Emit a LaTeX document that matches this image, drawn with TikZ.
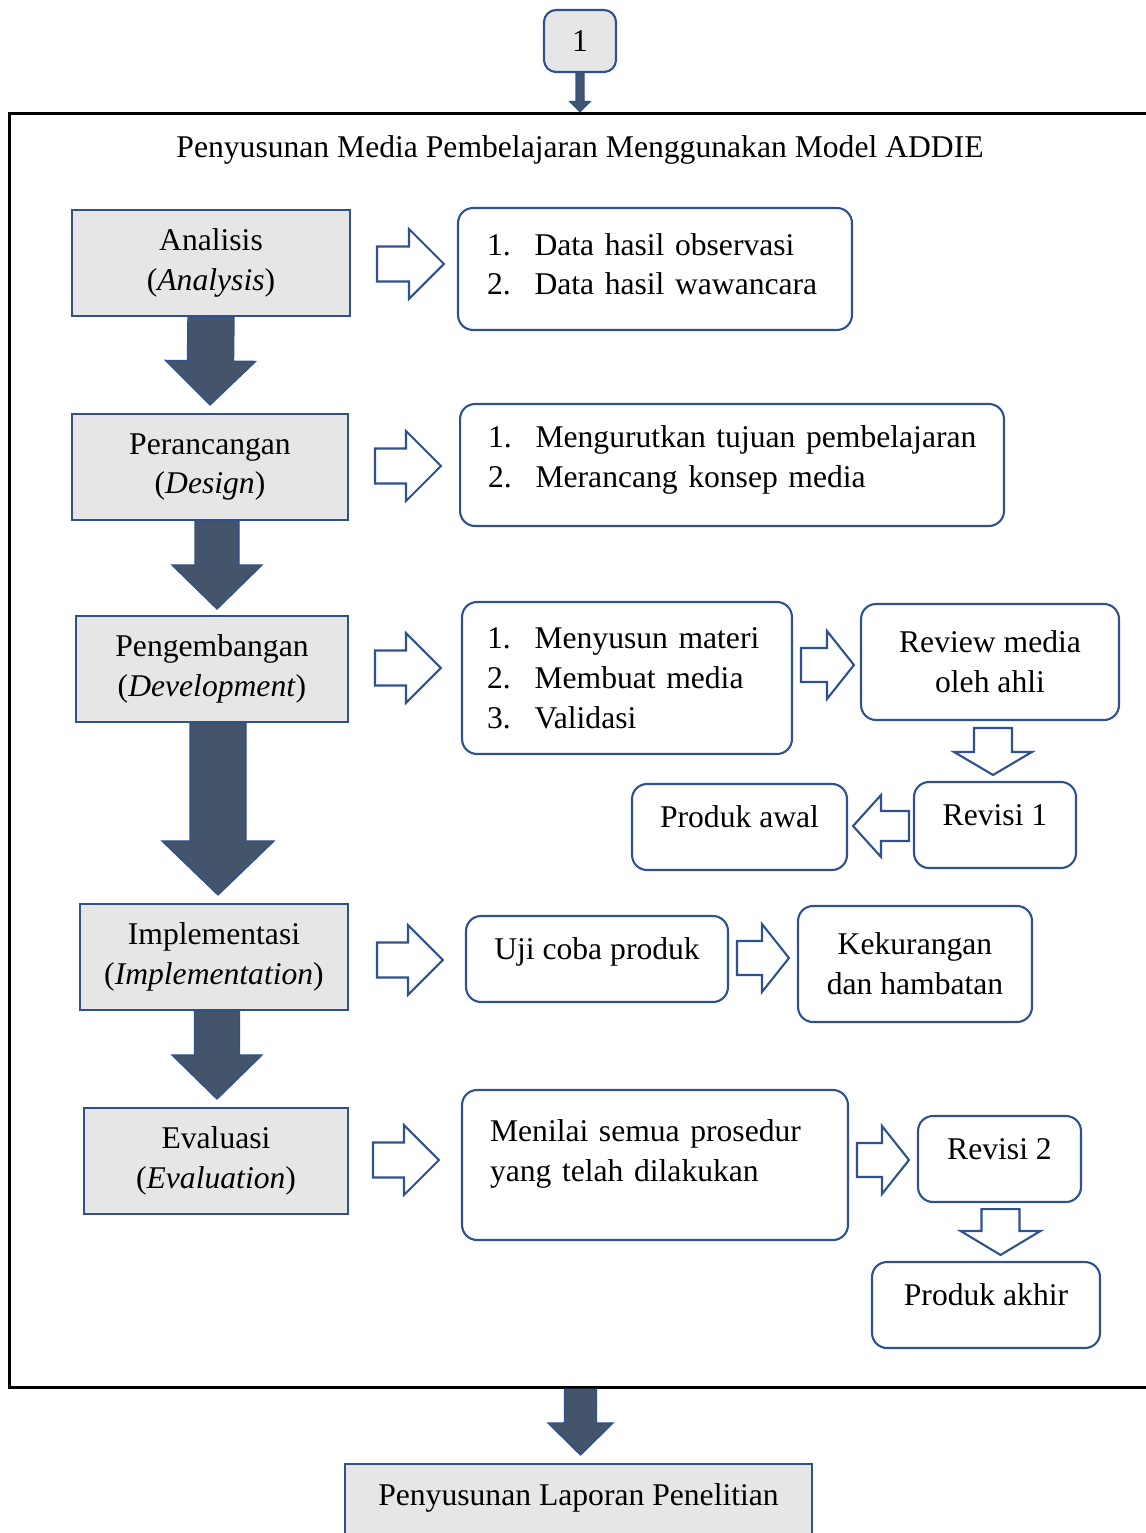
\documentclass[tikz,border=0pt]{standalone}
\usepackage{fontspec}
\setmainfont{Liberation Serif}
\usetikzlibrary{calc}

\definecolor{garisbiru}{HTML}{2F528F}
\definecolor{isiabu}{HTML}{E7E6E6}
\definecolor{isigelap}{HTML}{44546A}

% number in a list line
\newcommand{\nomor}[1]{\makebox[0.95cm][l]{#1}}
% extra depth below the last line
\newcommand{\bawah}[1]{\rule[-#1]{0pt}{0pt}}
% block arrow: [style]{start}{end}{half shaft}{half head}{head length}, sizes in px
\newcommand{\blockarrow}[6][hollow]{%
    \coordinate (ba-s) at #2;
    \coordinate (ba-e) at #3;
    \pgfmathsetlengthmacro\bas{#4*0.02cm}%
    \pgfmathsetlengthmacro\baw{#5*0.02cm}%
    \pgfmathsetlengthmacro\bah{#6*0.02cm}%
    \coordinate (ba-h) at ($(ba-e)!\bah!(ba-s)$);
    \draw[#1] ($(ba-s)!\bas!90:(ba-e)$) -- ($(ba-h)!\bas!90:(ba-e)$)
        -- ($(ba-h)!\baw!90:(ba-e)$) -- (ba-e)
        -- ($(ba-h)!\baw!-90:(ba-e)$) -- ($(ba-h)!\bas!-90:(ba-e)$)
        -- ($(ba-s)!\bas!-90:(ba-e)$) -- cycle;
}

\begin{document}
\begin{tikzpicture}[x=0.02cm, y=-0.02cm]
    \tikzset{every node/.style={font=\fontsize{18}{22.7}\selectfont},
        kotak/.style={draw=garisbiru, fill=isiabu, line width=1.2pt, align=center, inner sep=0pt},
        bulat/.style={draw=garisbiru, fill=white, line width=1.2pt, rounded corners=0.3cm, align=center, inner sep=0pt},
        naik/.style={text height=0.43cm, text depth=0.42cm},
        hollow/.style={draw=garisbiru, fill=white, line width=1.2pt},
        gelap/.style={draw=garisbiru, fill=isigelap, line width=0.8pt}}
    \useasboundingbox (0,0) rectangle (1145,1533);

    %Bingkai
    \node[draw, line width=1.7pt, minimum width=22.82cm, minimum height=25.5cm, inner sep=0pt]
        (bingkai) at (579.5,750.5) {};
    \node (judul) at (580,150) {Penyusunan Media Pembelajaran Menggunakan Model ADDIE};
    \node[kotak, rounded corners=0.24cm, minimum width=1.44cm, minimum height=1.24cm]
        (satu) at (580,41) {1};

    %Tahap ADDIE
    \node[kotak, minimum width=5.56cm, minimum height=2.12cm] (ana)  at (211,263)  {Analisis\\(\textit{Analysis})};
    \node[kotak, minimum width=5.52cm, minimum height=2.12cm] (per)  at (210,467)  {Perancangan\\(\textit{Design})};
    \node[kotak, minimum width=5.44cm, minimum height=2.12cm] (peng) at (212,669)  {Pengembangan\\(\textit{Development})};
    \node[kotak, minimum width=5.36cm, minimum height=2.12cm] (imp)  at (214,957)  {Implementasi\\(\textit{Implementation})};
    \node[kotak, minimum width=5.28cm, minimum height=2.12cm] (eva)  at (216,1161) {Evaluasi\\(\textit{Evaluation})};
    \node[kotak, naik, minimum width=9.34cm, minimum height=1.64cm] (lap) at (578.5,1505) {Penyusunan Laporan Penelitian};

    %Kegiatan
    \node[bulat, minimum width=7.88cm, minimum height=2.44cm, text width=6.72cm, align=left]
        (lst1) at (655,269) {\nomor{1.}Data hasil observasi\\\nomor{2.}Data hasil wawancara\bawah{0.2cm}};
    \node[bulat, minimum width=10.88cm, minimum height=2.44cm, text width=9.76cm, align=left]
        (lst2) at (732,465) {\nomor{1.}\mbox{Mengurutkan tujuan pembelajaran}\\\nomor{2.}Merancang konsep media\bawah{0.34cm}};
    \node[bulat, minimum width=6.6cm, minimum height=3.04cm, text width=5.6cm, align=left]
        (lst3) at (627,678) {\nomor{1.}Menyusun materi\\\nomor{2.}Membuat media\\\nomor{3.}Validasi};
    \node[bulat, minimum width=5.16cm, minimum height=2.32cm] (rev)  at (990,662)  {Review media\\oleh ahli};
    \node[bulat, naik, minimum width=3.24cm, minimum height=1.72cm] (rev1) at (995,825)  {Revisi 1};
    \node[bulat, naik, minimum width=4.3cm, minimum height=1.72cm]  (awal) at (739.5,827) {Produk awal};
    \node[bulat, naik, minimum width=5.24cm, minimum height=1.72cm] (uji)  at (597,959)  {Uji coba produk};
    \node[bulat, minimum width=4.68cm, minimum height=2.32cm] (kek)  at (915,964)  {Kekurangan\\dan hambatan};
    \node[bulat, minimum width=7.72cm, minimum height=3.0cm, text width=6.6cm, align=left]
        (nil) at (655,1165) {Menilai semua prosedur\\yang telah dilakukan\bawah{0.58cm}};
    \node[bulat, naik, minimum width=3.26cm, minimum height=1.72cm] (rev2) at (999.5,1159) {Revisi 2};
    \node[bulat, naik, minimum width=4.56cm, minimum height=1.72cm] (akh)  at (986,1305)  {Produk akhir};

    %Panah gelap
    \blockarrow[gelap]{(satu.south)}{(satu.south |- bingkai.north)}{4}{10}{10}
    \blockarrow[gelap]{(ana.south)}{($(per.north)+(0,-8)$)}{23}{45}{44}
    \blockarrow[gelap]{($(per.south)+(7,0)$)}{($(peng.north)+(5,-6)$)}{22}{45}{44}
    \blockarrow[gelap]{($(peng.south)+(6,0)$)}{($(imp.north)+(4,-8)$)}{28}{56}{54}
    \blockarrow[gelap]{($(imp.south)+(3,0)$)}{($(eva.north)+(1,-8)$)}{22.5}{45}{44}
    \blockarrow[gelap]{($(lap.north |- bingkai.south)+(2,0)$)}{($(lap.north)+(2,-8)$)}{16}{32.5}{32}

    %Panah kosong
    \blockarrow{($(ana.east)+(26,1)$)}{($(ana.east -| lst1.west)+(-13,1)$)}{17.5}{35}{35}
    \blockarrow{($(per.east)+(26,-1)$)}{($(per.east -| lst2.west)+(-18,-1)$)}{17.5}{35}{35}
    \blockarrow{($(peng.east)+(26,-1)$)}{($(peng.east -| lst3.west)+(-20,-1)$)}{17.5}{35}{35}
    \blockarrow{($(imp.east)+(28,3)$)}{($(imp.east -| uji.west)+(-22,3)$)}{17.5}{35}{35}
    \blockarrow{($(eva.east)+(24,-1)$)}{($(eva.east -| nil.west)+(-22,-1)$)}{17.5}{35}{35}
    \blockarrow{($(lst3.east)+(8,-13)$)}{($(lst3.east -| rev.west)+(-6,-13)$)}{17}{34}{27}
    \blockarrow{($(uji.east)+(8,-1)$)}{($(uji.east -| kek.west)+(-8,-1)$)}{17}{34}{27}
    \blockarrow{($(nil.east)+(8,-5)$)}{($(nil.east -| rev2.west)+(-8,-5)$)}{17}{34}{27}
    \blockarrow{($(rev.south)+(3,7)$)}{($(rev1.north)+(-2,-6)$)}{19}{39}{23}
    \blockarrow{($(rev1.west)+(-4,1)$)}{($(rev1.west -| awal.east)+(5,1)$)}{15}{31}{28}
    \blockarrow{($(rev2.south)+(1,6)$)}{($(rev2.south |- akh.north)+(1,-6)$)}{19}{40}{24}
\end{tikzpicture}
\end{document}
